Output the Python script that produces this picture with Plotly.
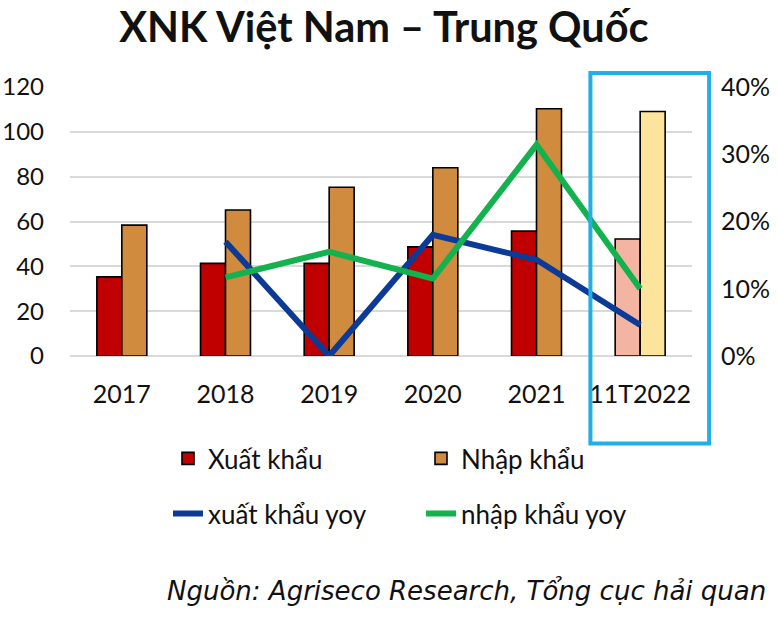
import plotly.graph_objects as go

categories = ["2017", "2018", "2019", "2020", "2021", "11T2022"]
xuat_khau = [35.3, 41.3, 41.3, 48.7, 55.7, 52.2]
nhap_khau = [58.4, 65.1, 75.3, 84.0, 110.3, 109.1]
xuat_khau_yoy = [None, 0.170, 0.0, 0.180, 0.143, 0.046]
nhap_khau_yoy = [None, 0.117, 0.155, 0.115, 0.314, 0.100]
left_ticks = [0, 20, 40, 60, 80, 100, 120]
right_ticks = [0, 0.1, 0.2, 0.3, 0.4]

FONT = "Lato"
red, red_hl = "#C00000", "#F4B4A2"
orange, orange_hl = "#D08B3E", "#FDE49C"
hl_index = categories.index("11T2022")
red_colors = [red_hl if i == hl_index else red for i in range(len(categories))]
orange_colors = [orange_hl if i == hl_index else orange for i in range(len(categories))]

fig = go.Figure()
fig.add_trace(go.Bar(x=categories, y=xuat_khau, name="Xuất khẩu",
                     marker=dict(color=red_colors, line=dict(color="#000000", width=1.6)),
                     legend="legend"))
fig.add_trace(go.Bar(x=categories, y=nhap_khau, name="Nhập khẩu",
                     marker=dict(color=orange_colors, line=dict(color="#000000", width=1.6)),
                     legend="legend"))
fig.add_trace(go.Scatter(x=categories, y=xuat_khau_yoy, name="xuất khẩu yoy", mode="lines",
                         line=dict(color="#0C3A97", width=6), yaxis="y2", legend="legend2"))
fig.add_trace(go.Scatter(x=categories, y=nhap_khau_yoy, name="nhập khẩu yoy", mode="lines",
                         line=dict(color="#14B14F", width=6), yaxis="y2", legend="legend2"))

# highlight box around the last category (paper coords derived from the category index)
n_cat = len(categories)
fig.add_shape(type="rect", xref="paper", yref="paper",
              x0=(hl_index - 0.48 + 0.5) / n_cat, x1=(hl_index + 0.665 + 0.5) / n_cat,
              y0=-0.325, y1=1.052,
              line=dict(color="#22AEE6", width=4), fillcolor="rgba(0,0,0,0)", layer="above")

legend_common = dict(orientation="h", entrywidthmode="pixels", entrywidth=208,
                     xanchor="left", yanchor="middle", bgcolor="rgba(0,0,0,0)",
                     font=dict(family=FONT, size=26, color="#111111"),
                     itemwidth=30, traceorder="normal")

fig.update_layout(
    width=777, height=620,
    margin=dict(l=70, r=85, t=87, b=264, autoexpand=False),
    paper_bgcolor="white", plot_bgcolor="white",
    barmode="group", bargap=0.518, bargroupgap=0,
    font=dict(family=FONT, size=25, color="#111111"),
    title=dict(text="<b>XNK Việt Nam – Trung Quốc</b>", x=0.494, xanchor="center",
               y=0.956, yanchor="middle", font=dict(family=FONT, size=41.5, color="#111111")),
    xaxis=dict(type="category", range=[-0.5, n_cat - 0.5], showgrid=False,
               showline=False, ticks="", automargin=False,
               tickfont=dict(family=FONT, size=25), ticklabelstandoff=21),
    yaxis=dict(range=[0, 120], tickvals=left_ticks, showgrid=True, gridcolor="#D9D9D9",
               gridwidth=1.6, zeroline=True, zerolinecolor="#D9D9D9", zerolinewidth=1.6,
               showline=False, ticks="", tickfont=dict(family=FONT, size=24),
               ticklabelstandoff=25, automargin=False),
    yaxis2=dict(range=[0, 0.4], tickvals=right_ticks, tickformat=".0%", overlaying="y",
                side="right", showgrid=False, zeroline=False, showline=False, ticks="",
                tickfont=dict(family=FONT, size=25), ticklabelstandoff=28, automargin=False),
    legend=dict(x=(168 - 70) / 622, y=-0.381, **legend_common),
    legend2=dict(x=(168 - 70) / 622, y=-0.586, **legend_common),
    annotations=[dict(text="<i>Nguồn: Agriseco Research, Tổng cục hải quan</i>",
                      xref="paper", yref="paper", x=1.122, y=-0.873, xanchor="right",
                      yanchor="middle", showarrow=False,
                      font=dict(family="DejaVu Sans", size=26, color="#111111"))],
)

fig.write_html("out.html")
